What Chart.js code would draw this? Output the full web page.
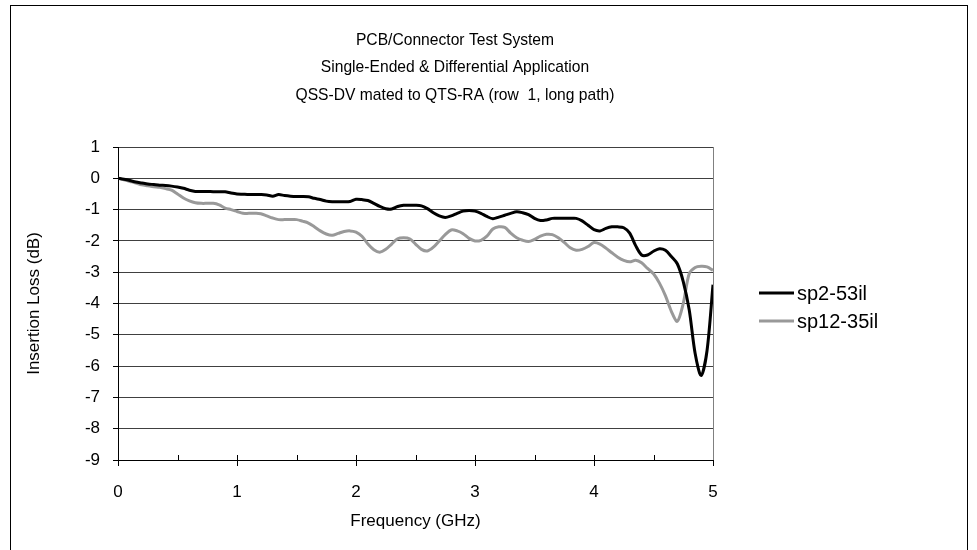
<!DOCTYPE html>
<html>
<head>
<meta charset="utf-8">
<script src="https://cdn.jsdelivr.net/npm/chart.js@4/dist/chart.umd.min.js"></script>
<style>
  body { margin: 0; background: #fff; }
  #wrap { position: relative; width: 977px; height: 550px; overflow: hidden; }
  #frame { position: absolute; left: 10px; top: 5px; width: 958px; height: 600px; border: 1px solid #000; box-sizing: border-box; }
  canvas { position: absolute; left: 0; top: 0; }
</style>
</head>
<body>
<div id="wrap">
  <div id="frame"></div>
  <canvas id="myChart" width="977" height="550"></canvas>
</div>
<script>
var titleLines = ["PCB/Connector Test System", "Single-Ended & Differential Application", "QSS-DV mated to QTS-RA (row  1, long path)"];
var seriesNames = ["sp2-53il", "sp12-35il"];

// frequency in GHz, 0.05 step
var freq = [];
for (var i = 0; i <= 100; i++) freq.push(+(i * 0.05).toFixed(2));

var sp2_53il = [
  0, -0.03, -0.07, -0.12, -0.15, -0.18, -0.2, -0.22, -0.23, -0.25,
  -0.28, -0.32, -0.38, -0.42, -0.42, -0.42, -0.43, -0.43, -0.43, -0.47,
  -0.5, -0.51, -0.52, -0.52, -0.52, -0.53, -0.57, -0.52, -0.55, -0.57,
  -0.58, -0.58, -0.59, -0.64, -0.68, -0.73, -0.75, -0.75, -0.75, -0.74,
  -0.67, -0.68, -0.71, -0.8, -0.9, -0.97, -0.98, -0.9, -0.86, -0.86,
  -0.86, -0.88, -0.97, -1.1, -1.2, -1.25, -1.2, -1.12, -1.05, -1.03,
  -1.05, -1.12, -1.22, -1.29, -1.24, -1.18, -1.12, -1.07, -1.1, -1.16,
  -1.28, -1.35, -1.33, -1.28, -1.28, -1.28, -1.28, -1.28, -1.36, -1.5,
  -1.64, -1.68, -1.6, -1.55, -1.55, -1.58, -1.75, -2.15, -2.45, -2.45,
  -2.33, -2.25, -2.3, -2.5, -2.73, -3.3, -4.2, -5.6, -6.3, -5.5,
  -3.4
];

var sp12_35il = [
  0, -0.05, -0.1, -0.15, -0.21, -0.24, -0.27, -0.29, -0.33, -0.38,
  -0.5, -0.63, -0.72, -0.78, -0.8, -0.8, -0.8, -0.85, -0.95, -1.0,
  -1.06, -1.12, -1.12, -1.12, -1.13, -1.2, -1.27, -1.32, -1.32, -1.32,
  -1.32, -1.37, -1.43, -1.55, -1.68, -1.78, -1.82, -1.76, -1.7, -1.68,
  -1.72, -1.85, -2.1, -2.28, -2.36, -2.27, -2.1, -1.93, -1.9, -1.93,
  -2.1, -2.27, -2.32, -2.2, -2.0, -1.8, -1.65, -1.68, -1.77, -1.92,
  -2.0, -1.98, -1.85, -1.62, -1.55, -1.57, -1.75, -1.9, -1.98, -2.02,
  -1.95, -1.85, -1.79, -1.8, -1.9, -2.05, -2.22, -2.3, -2.27, -2.18,
  -2.05, -2.1, -2.23, -2.38, -2.52, -2.62, -2.67, -2.62, -2.7, -2.88,
  -3.05, -3.35, -3.75, -4.25, -4.57, -4.0, -3.05, -2.85, -2.81, -2.83,
  -2.94
];

var fontFamily = "'Liberation Sans', Arial, sans-serif";

function toPoints(ys) {
  return freq.map(function (f, i) { return { x: f, y: ys[i] }; });
}

// titles, legend and the inner x ticks
var extras = {
  id: 'extras',
  afterDraw: function (chart) {
    var ctx = chart.ctx;
    var area = chart.chartArea;
    var xs = chart.scales.x;
    ctx.save();
    // right border of plot
    ctx.strokeStyle = '#808080';
    ctx.lineWidth = 1;
    ctx.beginPath();
    ctx.moveTo(area.right + 0.5, area.top);
    ctx.lineTo(area.right + 0.5, area.bottom);
    ctx.stroke();
    // inner ticks on x axis every 0.5
    ctx.strokeStyle = '#000';
    for (var v = 0.5; v < 5; v += 0.5) {
      var px = Math.round(xs.getPixelForValue(v)) + 0.5;
      ctx.beginPath();
      ctx.moveTo(px, area.bottom);
      ctx.lineTo(px, area.bottom - 5);
      ctx.stroke();
    }
    // title (slightly condensed, like the original)
    ctx.fillStyle = '#000';
    ctx.font = '17px ' + fontFamily;
    ctx.textAlign = 'center';
    ctx.textBaseline = 'middle';
    titleLines.forEach(function (t, i) {
      ctx.save();
      ctx.translate(455, 40 + i * 27.5);
      ctx.scale(0.92, 1);
      ctx.fillText(t, 0, 0);
      ctx.restore();
    });
    // legend
    var colors = ['#000000', '#999999'];
    ctx.font = '20px ' + fontFamily;
    ctx.textAlign = 'left';
    seriesNames.forEach(function (n, i) {
      var y = 293 + i * 28;
      ctx.strokeStyle = colors[i];
      ctx.lineWidth = 3;
      ctx.beginPath();
      ctx.moveTo(759, y);
      ctx.lineTo(794, y);
      ctx.stroke();
      ctx.fillText(n, 797, y + 1);
    });
    ctx.restore();
  }
};

var ctx = document.getElementById('myChart');
var myChart = new Chart(ctx, {
  type: 'line',
  data: {
    datasets: [{
      label: seriesNames[0],
      data: toPoints(sp2_53il),
      borderColor: '#000000',
      borderWidth: 3,
      pointRadius: 0,
      tension: 0.3,
      fill: false,
    }, {
      label: seriesNames[1],
      data: toPoints(sp12_35il),
      borderColor: '#999999',
      borderWidth: 3,
      pointRadius: 0,
      tension: 0.3,
      fill: false,
    }],
  },
  plugins: [extras],
  options: {
    responsive: false,
    animation: false,
    layout: {
      padding: { left: 0, top: 147, right: 264, bottom: 0 },
    },
    plugins: {
      legend: { display: false },
      tooltip: { enabled: false },
    },
    scales: {
      x: {
        type: 'linear',
        min: 0,
        max: 5,
        afterFit: function (s) { s.height = 90; },
        ticks: {
          stepSize: 1,
          padding: 16,
          color: '#000',
          font: { family: fontFamily, size: 17 },
        },
        grid: {
          drawOnChartArea: false,
          tickLength: 6,
          color: '#000',
        },
        border: { color: '#000', width: 1 },
        title: {
          display: true,
          text: 'Frequency (GHz)',
          color: '#000',
          font: { family: fontFamily, size: 17 },
          padding: { top: 0, bottom: 18 },
        },
      },
      y: {
        min: -9,
        max: 1,
        afterFit: function (s) { s.width = 118; },
        ticks: {
          stepSize: 1,
          padding: 13,
          color: '#000',
          font: { family: fontFamily, size: 17 },
        },
        grid: {
          color: '#404040',
          tickColor: '#000',
          tickLength: 5,
        },
        border: { color: '#000', width: 1 },
        title: {
          display: true,
          text: 'Insertion Loss (dB)',
          color: '#000',
          font: { family: fontFamily, size: 17 },
          padding: { top: 24, bottom: 0 },
        },
      },
    },
  },
});
</script>
</body>
</html>
